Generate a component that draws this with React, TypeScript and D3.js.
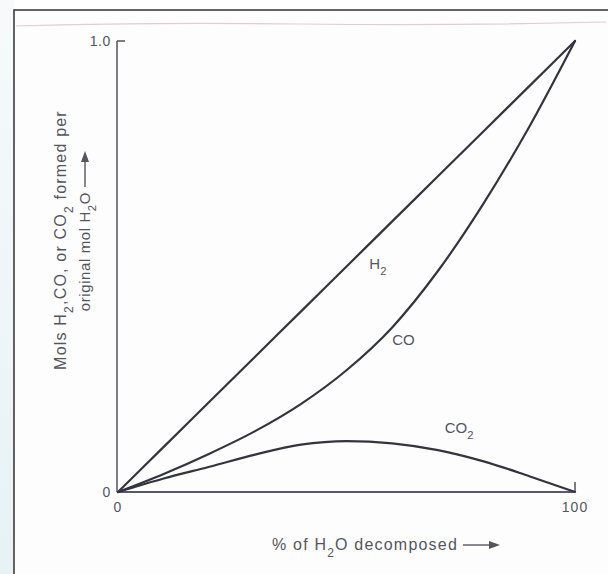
import React from 'react'
import * as d3 from 'd3'

// % of H2O decomposed vs mols formed per original mol H2O
const pctDecomposed = [0, 10, 20, 30, 40, 50, 60, 70, 80, 90, 100]
const h2Values = [0, 0.1, 0.2, 0.3, 0.4, 0.5, 0.6, 0.7, 0.8, 0.9, 1.0]
const coValues = [0, 0.04, 0.085, 0.135, 0.195, 0.27, 0.365, 0.49, 0.64, 0.81, 1.0]
const co2Values = [0, 0.03, 0.056, 0.083, 0.105, 0.113, 0.108, 0.093, 0.068, 0.035, 0]

const xTicks = [0, 100]
const yTicks = [0, 1.0]

const W = 608
const H = 574

export default function App() {
    const x = d3.scaleLinear().domain([0, 100]).range([118, 575])
    const y = d3.scaleLinear().domain([0, 1]).range([492, 41])

    const mk = (vals: number[]) =>
        d3.line<number>()
            .x((_, i) => x(pctDecomposed[i]))
            .y(d => y(d))
            .curve(d3.curveMonotoneX)(vals) as string

    const series = [
        {name: 'H2', vals: h2Values},
        {name: 'CO', vals: coValues},
        {name: 'CO2', vals: co2Values},
    ]

    const font = '"Liberation Sans", Arial, sans-serif'
    const ink = '#34343e'
    const textInk = '#55555e'

    const sub = (s: string) => (
        <tspan baselineShift="sub" fontSize="0.75em">{s}</tspan>
    )

    return (
        <svg width={W} height={H} style={{position: 'absolute', left: 0, top: 0, display: 'block'}}
             fontFamily={font}>
            <defs>
                <linearGradient id="strip" x1="0" y1="0" x2="0" y2="1">
                    <stop offset="0" stopColor="#f6fafb"/>
                    <stop offset="1" stopColor="#e6f2f6"/>
                </linearGradient>
            </defs>
            <rect x={0} y={0} width={W} height={H} fill="#ffffff"/>
            <rect x={0} y={0} width={14} height={H} fill="url(#strip)"/>
            <rect x={14} y={10} width={W} height={H} fill="#fdfdfe" stroke="#3c3c3c" strokeWidth={1.6}/>
            {/* faint scan line near the top */}
            <path d="M16,26 Q150,22 300,24 T606,22" fill="none" stroke="#e6c9d2" strokeWidth={1.2}/>

            {/* axes */}
            <line x1={x(0) - 1} x2={x(0) - 1} y1={y(1)} y2={y(0)} stroke="#5c5c66" strokeWidth={1.6}/>
            <line x1={x(0) - 1} x2={x(0) + 7} y1={y(1)} y2={y(1)} stroke="#5c5c66" strokeWidth={1.6}/>
            <line x1={x(0)} x2={x(100)} y1={y(0)} y2={y(0)} stroke="#5a5674" strokeWidth={1.8}/>
            <line x1={x(100)} x2={x(100)} y1={y(0)} y2={y(0) - 10} stroke="#5c5c66" strokeWidth={1.6}/>

            {yTicks.map(t => (
                <text key={'y' + t} x={x(0) - 7} y={y(t) + 5} textAnchor="end" fontSize={14}
                      letterSpacing={0.6} fill={textInk}>{t === 0 ? '0' : t.toFixed(1)}</text>
            ))}
            {xTicks.map(t => (
                <text key={'x' + t} x={x(t)} y={y(0) + 20} textAnchor="middle" fontSize={14}
                      letterSpacing={1} fill={textInk}>{t}</text>
            ))}

            {series.map(s => (
                <path key={s.name} d={mk(s.vals)} fill="none" stroke={ink} strokeWidth={2.2}
                      strokeLinecap="round"/>
            ))}

            {/* curve labels */}
            <text x={x(55)} y={y(0.495)} fontSize={15} fill={textInk}>H{sub('2')}</text>
            <text x={x(60)} y={y(0.325)} fontSize={15} fill={textInk}>CO</text>
            <text x={x(71.5)} y={y(0.13)} fontSize={15} fill={textInk}>CO{sub('2')}</text>

            {/* x axis title */}
            <text x={458} y={550} textAnchor="end" fontSize={16} letterSpacing={1.2} fill={textInk}>
                % of H{sub('2')}O decomposed
            </text>
            <line x1={463} x2={494} y1={545} y2={545} stroke={textInk} strokeWidth={1.4}/>
            <path d="M500,545 L489,541 L489,549 Z" fill={textInk}/>

            {/* y axis title */}
            <g transform="translate(66,0) rotate(-90)">
                <text x={-240} y={0} textAnchor="middle" fontSize={16} letterSpacing={1.2} fill={textInk}>
                    Mols H{sub('2')},CO, or CO{sub('2')} formed per
                </text>
            </g>
            <g transform="translate(90,0) rotate(-90)">
                <text x={-192} y={0} textAnchor="end" fontSize={15} letterSpacing={0.6} fill={textInk}>
                    original mol H{sub('2')}O
                </text>
                <line x1={-187} x2={-157} y1={-5} y2={-5} stroke={textInk} strokeWidth={1.4}/>
                <path d="M-151,-5 L-162,-9 L-162,-1 Z" fill={textInk}/>
            </g>
        </svg>
    )
}
